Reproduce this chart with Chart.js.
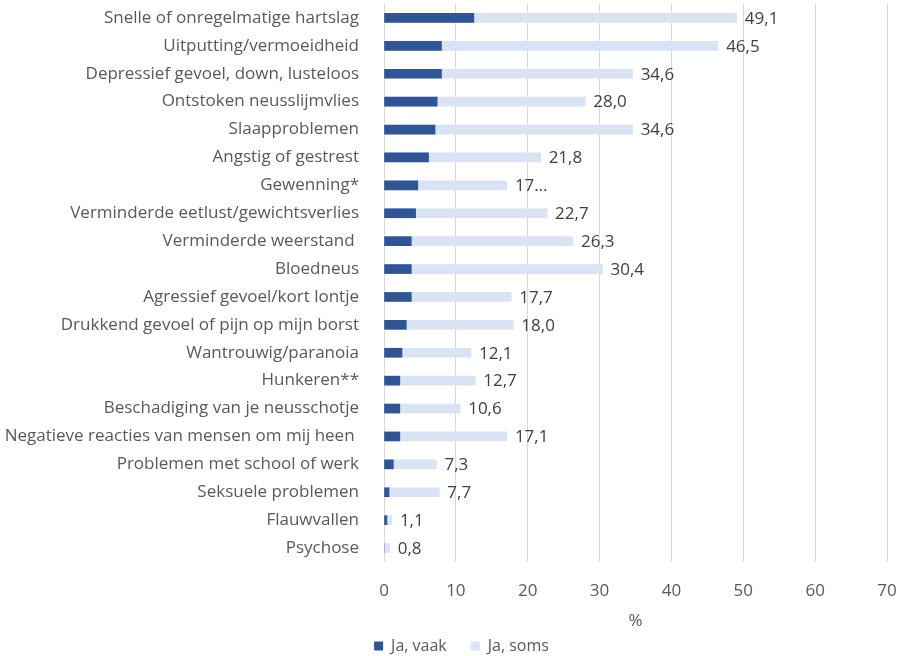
<!DOCTYPE html>
<html>
<head>
<meta charset="utf-8">
<script src="https://cdn.jsdelivr.net/npm/chart.js@4.4.1/dist/chart.umd.min.js"></script>
<style>
  html, body { margin: 0; padding: 0; background: #fff; }
  #wrap { width: 901px; height: 656px; }
</style>
</head>
<body>
<div id="wrap"><canvas id="chart"></canvas></div>
<script>
const categories = [
  'Snelle of onregelmatige hartslag',
  'Uitputting/vermoeidheid',
  'Depressief gevoel, down, lusteloos',
  'Ontstoken neusslijmvlies',
  'Slaapproblemen',
  'Angstig of gestrest',
  'Gewenning*',
  'Verminderde eetlust/gewichtsverlies',
  'Verminderde weerstand ',
  'Bloedneus',
  'Agressief gevoel/kort lontje',
  'Drukkend gevoel of pijn op mijn borst',
  'Wantrouwig/paranoia',
  'Hunkeren**',
  'Beschadiging van je neusschotje',
  'Negatieve reacties van mensen om mij heen ',
  'Problemen met school of werk',
  'Seksuele problemen',
  'Flauwvallen',
  'Psychose'
];

// "Ja, vaak" share and the total of "vaak" + "soms" (the labelled bar end)
const vaak = [12.5, 8.0, 8.0, 7.4, 7.1, 6.2, 4.7, 4.4, 3.8, 3.8, 3.8, 3.1, 2.5, 2.2, 2.2, 2.2, 1.3, 0.7, 0.4, 0];
const soms = [49.1, 46.5, 34.6, 28.0, 34.6, 21.8, 17.1, 22.7, 26.3, 30.4, 17.7, 18.0, 12.1, 12.7, 10.6, 17.1, 7.3, 7.7, 1.1, 0.8];

const xTicks = [0, 10, 20, 30, 40, 50, 60, 70];
const seriesNames = ['Ja, vaak', 'Ja, soms'];

// labels that did not fit and got cut off
const clippedLabels = ['Gewenning*'];

const FONT = 'Open Sans';
const TEXT = '#595959';

function fmt(v) {
  return v.toFixed(1).replace('.', ',');
}

const valueLabels = {
  id: 'valueLabels',
  afterDatasetsDraw(chart) {
    const meta = chart.getDatasetMeta(1);
    const ctx = chart.ctx;
    ctx.save();
    ctx.font = '17px "' + FONT + '"';
    ctx.fillStyle = '#404040';
    ctx.textAlign = 'left';
    ctx.textBaseline = 'middle';
    meta.data.forEach((bar, i) => {
      let txt = fmt(soms[i]);
      if (clippedLabels.includes(categories[i])) txt = txt.slice(0, 2) + '\u2026';
      ctx.fillText(txt, bar.x + 8, bar.y + 1);
    });
    ctx.restore();
  }
};

// nudge the legend row a bit to the right
const legendShift = {
  id: 'legendShift',
  afterLayout(chart) {
    chart.legend.left += 18;
    chart.legend.right += 18;
  }
};

new Chart(document.getElementById('chart'), {
  type: 'bar',
  data: {
    labels: categories,
    datasets: [
      {
        label: seriesNames[0],
        data: vaak,
        backgroundColor: '#2F5597',
        barThickness: 9
      },
      {
        label: seriesNames[1],
        data: soms,
        backgroundColor: '#DAE3F3',
        barThickness: 9
      }
    ]
  },
  options: {
    indexAxis: 'y',
    responsive: true,
    maintainAspectRatio: false,
    animation: false,
    layout: { padding: { left: 0, right: 14, top: 4, bottom: -8 } },
    scales: {
      x: {
        min: 0,
        max: 70,
        afterBuildTicks(scale) {
          scale.ticks = xTicks.map(v => ({ value: v }));
        },
        afterFit(scale) {
          scale.height = 52;
          scale.paddingLeft = 0;
          scale.paddingRight = 0;
        },
        grid: { color: '#D9D9D9', drawTicks: false, lineWidth: 1 },
        border: { display: false },
        ticks: {
          padding: 19,
          color: TEXT,
          font: { family: FONT, size: 17 }
        },
        title: {
          display: true,
          text: '%',
          color: TEXT,
          font: { family: FONT, size: 17 },
          padding: { top: 3, bottom: -17 }
        }
      },
      y: {
        stacked: true,
        grid: { display: false },
        border: { display: false },
        ticks: {
          padding: 17,
          color: TEXT,
          font: { family: FONT, size: 17 }
        },
        afterFit(scale) {
          scale.width = 384;
          scale.paddingTop = 0;
          scale.paddingBottom = 0;
        }
      }
    },
    plugins: {
      legend: {
        position: 'bottom',
        labels: {
          boxWidth: 9,
          boxHeight: 9,
          padding: 24,
          color: TEXT,
          font: { family: FONT, size: 16 }
        }
      },
      tooltip: { enabled: false }
    }
  },
  plugins: [valueLabels, legendShift]
});
</script>
</body>
</html>
